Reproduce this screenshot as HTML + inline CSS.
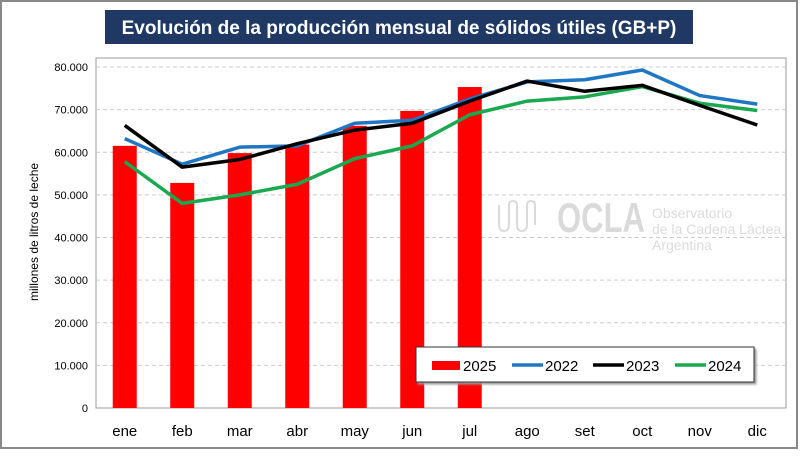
<!DOCTYPE html>
<html><head><meta charset="utf-8"><style>
body{margin:0;background:#fff;width:800px;height:451px;overflow:hidden;font-family:"Liberation Sans",sans-serif}
</style></head><body>
<svg width="800" height="451" xmlns="http://www.w3.org/2000/svg">
<rect x="1" y="1" width="796" height="447" fill="#fff" stroke="#888" stroke-width="2"/>
<rect x="105" y="10" width="588" height="34" fill="#1f3864"/>
<text x="399" y="34" text-anchor="middle" fill="#fff" font-size="19" font-weight="bold">Evolución de la producción mensual de sólidos útiles (GB+P)</text>
<rect x="96" y="58" width="690" height="350" fill="none" stroke="#999"/>
<g id="grid"></g>
<g opacity="0.3">
<text x="557" y="232" font-size="42" font-weight="bold" fill="#888" textLength="88" lengthAdjust="spacingAndGlyphs">OCLA</text>
<text x="652" y="218" font-size="14" fill="#888">Observatorio</text>
<text x="652" y="234" font-size="14" fill="#888">de la Cadena Láctea</text>
<text x="652" y="250" font-size="14" fill="#888">Argentina</text>
<path d="M499 205 v20 q0 6 5 6 t5 -6 v-20 q0 -4 4 -4 t4 4 v20 q0 6 5 6 t5 -6 v-20 q0 -4 4 -4 t4 4 v20" fill="none" stroke="#888" stroke-width="2"/>
</g>
<g id="bars"></g><g id="lines"></g><g id="axes"></g>
<text transform="translate(38,232) rotate(-90)" text-anchor="middle" font-size="12">millones de litros de leche</text>
<g>
<rect x="416" y="347" width="338" height="35" fill="#fff" stroke="#333" style="filter:drop-shadow(2px 2px 1px #999)"/>
<rect x="432" y="361" width="28" height="9" fill="#ff0000"/>
<text x="463" y="371" font-size="15">2025</text>
<line x1="512" y1="365" x2="543" y2="365" stroke="#1f77c4" stroke-width="3.5"/>
<text x="545" y="371" font-size="15">2022</text>
<line x1="593" y1="365" x2="624" y2="365" stroke="#000" stroke-width="3.5"/>
<text x="626" y="371" font-size="15">2023</text>
<line x1="675" y1="365" x2="706" y2="365" stroke="#1aa850" stroke-width="3.5"/>
<text x="708" y="371" font-size="15">2024</text>
</g>
</svg>
<script>
const categories=["ene","feb","mar","abr","may","jun","jul","ago","set","oct","nov","dic"];
const values2025=[61500,52800,59800,61800,66200,69700,75300];
const values2022=[63200,57200,61200,61500,66800,67500,72500,76500,77000,79300,73300,71300];
const values2023=[66300,56500,58300,62000,65200,66800,72000,76700,74300,75700,71000,66400];
const values2024=[57800,48000,50000,52500,58500,61500,68800,72000,73000,75400,71500,69800];
const yTicks=[0,10000,20000,30000,40000,50000,60000,70000,80000];
const yTickLabels=["0","10.000","20.000","30.000","40.000","50.000","60.000","70.000","80.000"];
const NS="http://www.w3.org/2000/svg";
const L=96,R=786,T0=408,yMax=80000,yTop=67;
const step=(R-L)/categories.length;
function x(i){return L+step*(i+0.5);}
function y(v){return T0-(T0-yTop)*v/yMax;}
function mk(t,a,p){const e=document.createElementNS(NS,t);for(const k in a)e.setAttribute(k,a[k]);document.getElementById(p).appendChild(e);return e;}
yTicks.forEach((v,i)=>{
 if(v>0){const g=mk("line",{x1:L,x2:R,y1:y(v),y2:y(v),stroke:"#ccc","stroke-dasharray":"4,3"},"grid");
 
 }
 const t=mk("text",{x:L-8,y:y(v)+4,"text-anchor":"end","font-size":"11"},"axes");t.textContent=yTickLabels[i];
 
 
});
categories.forEach((c,i)=>{
 const t=mk("text",{x:x(i),y:436,"text-anchor":"middle","font-size":"15"},"axes");t.textContent=c;
 
 
});
values2025.forEach((v,i)=>{
 const b=mk("rect",{x:x(i)-12,y:y(v),width:24,height:T0-y(v),fill:"#ff0000"},"bars");
 
 
});
[[values2022,"#1f77c4","2022"],[values2024,"#1aa850","2024"],[values2023,"#000","2023"]].forEach(([s,c,n])=>{
 const p=mk("polyline",{points:s.map((v,i)=>x(i)+","+y(v)).join(" "),fill:"none",stroke:c,"stroke-width":3.5,"stroke-linejoin":"round"},"lines");
 
 
});
</script>
</body></html>
